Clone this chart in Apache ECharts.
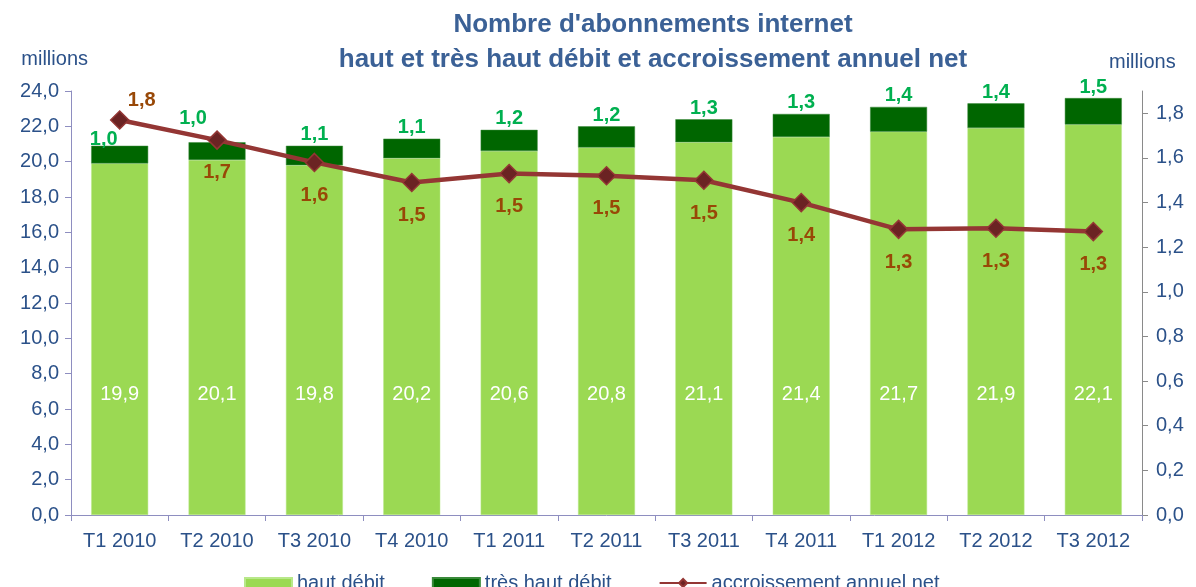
<!DOCTYPE html>
<html>
<head>
<meta charset="utf-8">
<script src="https://cdn.jsdelivr.net/npm/echarts@6/dist/echarts.min.js"></script>
<style>
  html, body { margin: 0; padding: 0; background: #fff; }
  #chart { width: 1196px; height: 587px; }
</style>
</head>
<body>
<div id="chart"></div>
<script>
// trimestres
var categories = ["T1 2010", "T2 2010", "T3 2010", "T4 2010", "T1 2011", "T2 2011",
  "T3 2011", "T4 2011", "T1 2012", "T2 2012", "T3 2012"];
var hautDebit = [19.9, 20.1, 19.8, 20.2, 20.6, 20.8, 21.1, 21.4, 21.7, 21.9, 22.1];
var tresHautDebit = [1.0, 1.0, 1.1, 1.1, 1.2, 1.2, 1.3, 1.3, 1.4, 1.4, 1.5];
var accroissement = [1.77, 1.68, 1.58, 1.49, 1.53, 1.52, 1.50, 1.40, 1.28, 1.285, 1.27];
var rightTicks = [0, 0.2, 0.4, 0.6, 0.8, 1.0, 1.2, 1.4, 1.6, 1.8];

var fr = function (v) { return Number(v).toFixed(1).replace(".", ","); };
var axisColor = "#2b5189";
var font = "Liberation Sans, Arial, sans-serif";

// premier point : étiquette au-dessus à droite
var lineData = accroissement.map(function (v, i) {
  if (i === 0) {
    return { value: v, label: { position: "top", distance: 0, offset: [22, 0] } };
  }
  return v;
});

// les deux premières étiquettes vertes sont décalées pour laisser passer la courbe
var thdOffsets = { 0: [-16, 5], 1: [-24, -13] };
var thdData = tresHautDebit.map(function (v, i) {
  if (thdOffsets[i]) {
    return { value: v, label: { offset: thdOffsets[i] } };
  }
  return v;
});

var chart = echarts.init(document.getElementById("chart"));
var option = {
  animation: false,
  textStyle: { fontFamily: font },
  title: {
    text: "Nombre d'abonnements internet\nhaut et très haut débit et accroissement annuel net",
    left: 648,
    top: 2,
    textAlign: "center",
    textStyle: { color: "#3b6196", fontSize: 26, fontWeight: "bold", lineHeight: 35, fontFamily: font }
  },
  grid: { left: 71, right: 54, top: 91, bottom: 72 },
  legend: {
    left: 239,
    top: 568,
    itemWidth: 47,
    itemHeight: 10,
    itemGap: 47,
    textStyle: { color: axisColor, fontSize: 20, fontFamily: font },
    data: [
      { name: "haut débit", icon: "rect" },
      { name: "très haut débit", icon: "rect" },
      { name: "accroissement annuel net" }
    ]
  },
  xAxis: {
    type: "category",
    data: categories,
    axisLine: { lineStyle: { color: "#8e8ec0", width: 1 } },
    axisTick: { show: true, length: 6, lineStyle: { color: "#8e8ec0" } },
    axisLabel: { color: axisColor, fontSize: 20, margin: 16, interval: 0 }
  },
  yAxis: [
    {
      type: "value",
      min: 0,
      max: 24,
      interval: 2,
      name: "millions",
      nameLocation: "end",
      nameGap: 22,
      nameTextStyle: { color: axisColor, fontSize: 20, align: "right", padding: [0, -17, 0, 0] },
      axisLine: { show: true, lineStyle: { color: "#8e8ec0" } },
      axisTick: { show: true, length: 6, lineStyle: { color: "#8e8ec0" } },
      splitLine: { show: false },
      axisLabel: { color: axisColor, fontSize: 20, margin: 12, formatter: fr }
    },
    {
      type: "value",
      min: 0,
      max: 1.9,
      interval: 0.2,
      position: "right",
      name: "millions",
      nameLocation: "end",
      nameGap: 19,
      nameTextStyle: { color: axisColor, fontSize: 20, align: "left", padding: [0, 0, 0, -33] },
      axisLine: { show: true, lineStyle: { color: "#8a8a8a" } },
      axisTick: { show: true, length: 6, lineStyle: { color: "#8a8a8a" }, customValues: rightTicks },
      splitLine: { show: false },
      axisLabel: { color: axisColor, fontSize: 20, margin: 14, formatter: fr, customValues: rightTicks }
    }
  ],
  series: [
    {
      name: "haut débit",
      type: "bar",
      stack: "total",
      barWidth: "58.5%",
      itemStyle: { color: "#9bd953", borderColor: "#b8e88a", borderWidth: 0.5 },
      label: {
        show: true,
        position: "insideBottom",
        distance: 111,
        color: "#fff",
        fontSize: 20,
        formatter: function (p) { return fr(p.value); }
      },
      data: hautDebit
    },
    {
      name: "très haut débit",
      type: "bar",
      stack: "total",
      itemStyle: { color: "#006600", borderColor: "#3a8a3a", borderWidth: 0.5 },
      label: {
        show: true,
        position: "top",
        distance: 1,
        color: "#00b050",
        fontSize: 20,
        fontWeight: "bold",
        formatter: function (p) { return fr(p.value); }
      },
      data: thdData
    },
    {
      name: "accroissement annuel net",
      type: "line",
      yAxisIndex: 1,
      symbol: "diamond",
      symbolSize: 18,
      lineStyle: { color: "#943634", width: 4.5 },
      itemStyle: { color: "#6b2323", borderColor: "#943634", borderWidth: 1.5 },
      label: {
        show: true,
        position: "bottom",
        distance: 13,
        color: "#984807",
        fontSize: 20,
        fontWeight: "bold",
        formatter: function (p) { return fr(p.value); }
      },
      z: 5,
      data: lineData
    }
  ]
};
chart.setOption(option);
</script>
</body>
</html>
